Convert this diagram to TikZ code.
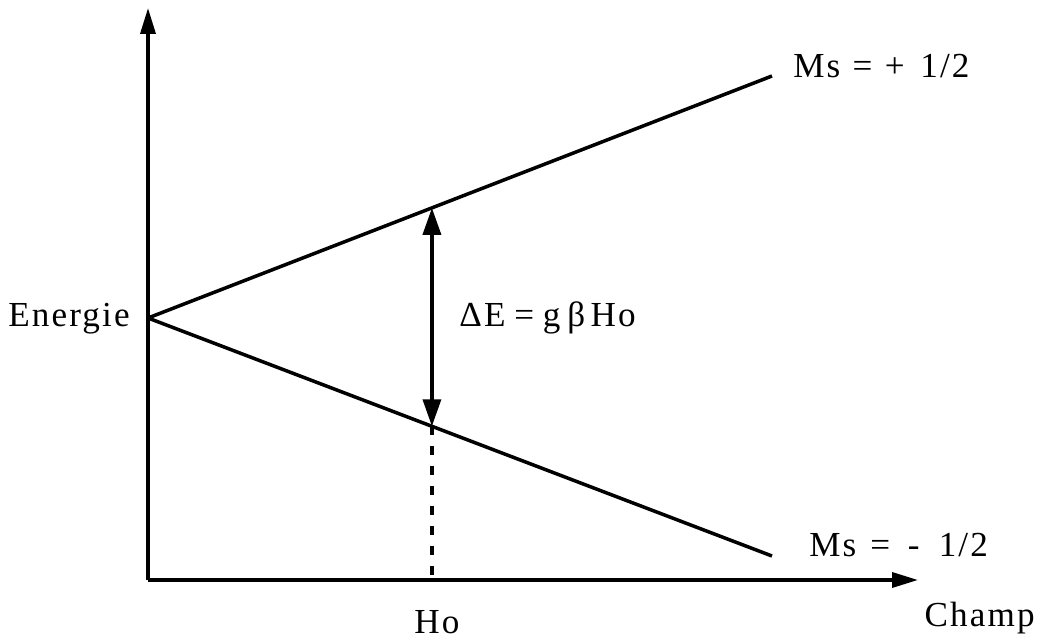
\documentclass[tikz,border=0pt]{standalone}
\usepackage{fontspec}
\setmainfont[LetterSpace=6]{Liberation Serif}
\usepackage{tikz}
\usetikzlibrary{arrows.meta, calc}
\tikzset{
  axis/.style={line width=2pt, -{Triangle[length=0.52cm, width=0.3cm]}},
  level/.style={line width=2pt},
  gap/.style={line width=2pt,
    {Triangle[length=0.54cm, width=0.36cm]}-{Triangle[length=0.54cm, width=0.36cm]}},
  guide/.style={line width=2pt, dash pattern=on 0.18cm off 0.22cm},
  lbl/.style={font=\fontsize{20}{24}\selectfont, inner sep=0pt},
}
\newcommand{\gapsp}[1]{\hspace{#1em}}

\begin{document}
\begin{tikzpicture}[x=0.02cm, y=-0.02cm]
  \useasboundingbox (0,0) rectangle (1038,638);

  \coordinate (O) at (148,580);
  \coordinate (Ytop) at (148,8);
  \coordinate (Xend) at (918,580);
  \coordinate (V) at (148,318);
  \coordinate (Up) at (772,76);
  \coordinate (Lo) at (772,556);
  \coordinate (A) at ($(V)!0.455!(Up)$);
  \coordinate (B) at ($(V)!0.455!(Lo)$);
  \coordinate (H) at (B |- O);

  \draw[axis] (O) -- (Ytop);
  \draw[axis] (O) -- (Xend);
  \draw[level] (V) -- (Up);
  \draw[level] (V) -- (Lo);
  \draw[gap] (A) -- (B);
  \draw[guide] (B) -- (H);

  \node[lbl, anchor=base east] (energie) at (130,327) {Energie};
  \node[lbl, anchor=base west] (msplus) at (793,78)
    {Ms\gapsp{0.35}=\gapsp{0.35}+\gapsp{0.45}1/2};
  \node[lbl, anchor=base west] (msminus) at (809,556)
    {Ms\gapsp{0.4}=\gapsp{0.5}-\gapsp{0.55}1/2};
  \node[lbl, anchor=base west] (delta) at (459,327)
    {ΔE\gapsp{0.25}=\gapsp{0.25}g\gapsp{0.2}β\gapsp{0.15}Ho};
  \node[lbl, anchor=base] (ho) at (437,633) {Ho};
  \node[lbl, anchor=base east] (champ) at (1035,626) {Champ};
\end{tikzpicture}
\end{document}
